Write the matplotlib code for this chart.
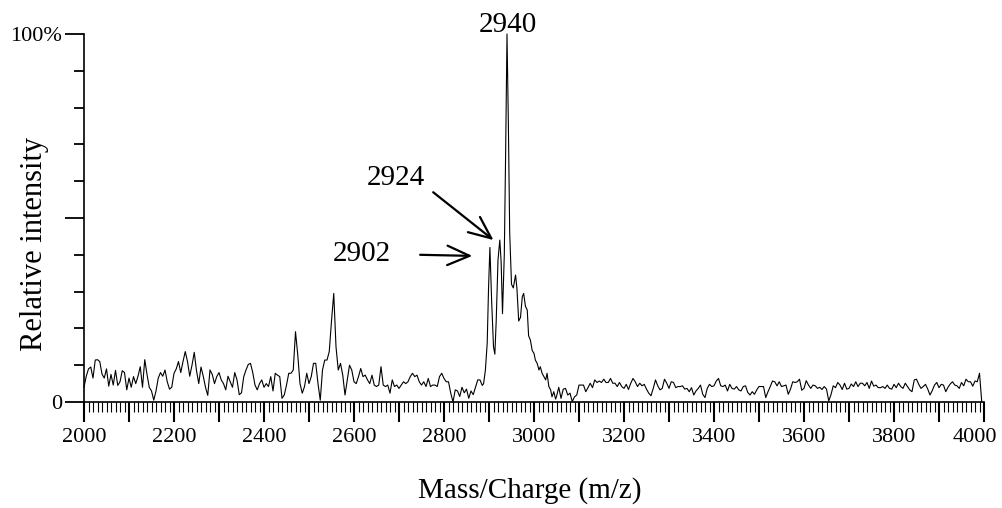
import numpy as np
import matplotlib
matplotlib.use("Agg")
import matplotlib.pyplot as plt
from matplotlib.ticker import MultipleLocator, FixedLocator, FixedFormatter
from matplotlib.transforms import ScaledTranslation

plt.rcParams['font.family'] = ['Liberation Serif', 'DejaVu Serif']

# Low-mass baseline, m/z 2000-2875 sampled every 5 units (% relative intensity)
low_start, step = 2000, 5
low_intensity = [
    4, 7, 9, 9.5, 6.5, 11.4, 11.5, 11, 7.6, 6.5, 9, 4.3, 7.5, 4.6, 8.6, 4.5, 5.5, 8.5, 8, 3.3,
    6.5, 4, 6.9, 5, 7, 9.6, 4, 11.5, 7.5, 4, 3, 0.5, 3, 6.5, 8, 7, 8.7, 5.5, 3.5, 4,
    7.8, 9, 11, 8, 11, 13.7, 11, 7, 10, 13.5, 8.5, 5, 9.5, 7, 4, 1.8, 8.7, 7.5, 5, 6.9,
    8, 6, 5, 3.3, 7, 5.5, 4, 8, 6, 2, 2.5, 6.9, 8.7, 10.2, 10.5, 8, 4.6, 3.3, 5, 6,
    4, 5, 4.2, 6.9, 3, 7.8, 7.3, 6.9, 1, 1.9, 4.6, 7.8, 7.8, 8.7, 19.1, 12.8, 5, 2.4, 4.2, 7.8,
    5, 6.9, 10.5, 10.5, 5, 0.5, 8.7, 11.4, 11.4, 13.7, 22, 29.5, 15, 8.7, 10.5, 7.3, 1.9, 6, 10, 8.7,
    5.5, 5, 6.9, 9.1, 6.9, 7.3, 6, 5, 7.3, 4.6, 4.2, 4.6, 9.6, 4.6, 4.2, 4.6, 2.4, 6, 4.2, 4.6,
    3.7, 4.6, 5.5, 5, 5.5, 6.9, 7.8, 6.9, 7.3, 5.5, 4.6, 5.5, 4.2, 6.4, 4.2, 4.6, 4.6, 4.2, 6.9, 7.8,
    6.4, 5.5, 5.5, 2.4, 0, 3.3, 3, 1.5, 4, 2.5, 3.5, 1, 3, 2, 4, 6,
]

# Main cluster around the 2902 / 2924 / 2940 ions
cluster_mz = [2880, 2885, 2888, 2892, 2896, 2899, 2902, 2906, 2910, 2913, 2916, 2920,
              2924, 2927, 2930, 2934, 2937, 2940, 2943, 2946, 2950, 2954, 2959, 2962,
              2966, 2970, 2974, 2977, 2981, 2985, 2988, 2992, 2996, 3000, 3003, 3007,
              3011, 3014, 3018, 3022, 3026, 3029, 3033, 3037, 3040, 3044, 3048]
cluster_intensity = [6, 4.5, 5, 8.7, 16, 31, 42, 27, 15, 13, 22, 38.6,
                     44, 38, 24, 40, 68, 100, 76, 46, 32, 31, 34.5, 31,
                     22, 23, 28.6, 29.5, 26, 25, 18, 16.8, 14, 13.2, 11.4, 10.5,
                     8.7, 9.6, 7.8, 6.9, 6, 7.8, 4.2, 3.3, 1.4, 2.8, 0.8]

# High-mass baseline, m/z 3050-3995 sampled every 5 units
high_start = 3050
high_intensity = [
    1.5, 4, 1, 3.5, 3.7, 1.9, 2.4, 0.1, 1.4, 1.9, 4.6, 4.6, 4.6, 2.8, 3.9, 5.1, 3.9, 6, 5.3, 5.7,
    5.3, 6.2, 5.3, 5.3, 6.4, 5.1, 5.1, 4.2, 5.3, 4.2, 3.7, 4.8, 3.4, 5.1, 6.4, 5.5, 4.2, 5.1, 4.4, 4.8,
    3.5, 2.4, 1.7, 3.7, 6, 4.4, 3.3, 3.7, 6.2, 5.1, 3.7, 5.5, 5.3, 3.9, 4.2, 4.2, 4.4, 3.5, 3.7, 2.8,
    3.9, 1.9, 3, 3.7, 4.6, 2.1, 1.2, 3.7, 4.8, 4.2, 4.4, 5.7, 6.4, 4.4, 4.2, 4.6, 3, 4.8, 3.7, 3.5,
    4.2, 3.3, 3, 4.2, 4.4, 2.6, 1.9, 2.8, 2.1, 3.3, 4.2, 4.2, 4.2, 1.2, 2.8, 4.2, 5.7, 5.5, 4.4, 5.5,
    4.2, 4.4, 4.6, 2.1, 3.5, 5.5, 5.3, 5.5, 6.2, 3.2, 3.7, 5.8, 4.6, 3.7, 4.6, 4.4, 3.7, 4, 3.4, 4.2,
    3.5, 0.3, 2, 4.4, 3.9, 5.3, 4.6, 3.4, 5.1, 3.5, 3.7, 4.9, 4.2, 5.5, 4.2, 5.1, 5.1, 4.4, 5.3, 3.7,
    5.7, 4.3, 4.6, 3.9, 3.9, 4.2, 3.7, 4.6, 3.7, 3.5, 4.8, 3.9, 5.1, 4.2, 3.7, 5.1, 4.2, 3.3, 2.8, 6,
    6.2, 4.8, 3.7, 4.2, 4.8, 3.5, 1.9, 3.1, 4.6, 5.3, 3.9, 4.8, 4.6, 2.8, 4, 4.9, 5.5, 4.6, 4.4, 3.7,
    5.3, 4.4, 6.2, 5.5, 5.5, 4.3, 5.7, 5.5, 7.8, 0,
]

peak_labels = ["2902", "2924", "2940"]

mz = np.concatenate([
    low_start + step * np.arange(len(low_intensity)),
    np.array(cluster_mz, dtype=float),
    high_start + step * np.arange(len(high_intensity)),
])
intensity = np.concatenate([low_intensity, cluster_intensity, high_intensity])

fig = plt.figure(figsize=(10.02, 5.08), dpi=100)
ax = fig.add_axes([84 / 1002, 1 - 402 / 508, 900 / 1002, 368 / 508])

ax.plot(mz, intensity, color='black', lw=0.8, clip_on=False)
ax.set_xlim(2000, 4000)
ax.set_ylim(0, 100)

for side in ('top', 'right'):
    ax.spines[side].set_visible(False)
for side in ('left', 'bottom'):
    ax.spines[side].set_linewidth(1.2)

# x axis: long ticks every 100, short every 10, labels every 200
xmajor = np.arange(2000, 4001, 100)
ax.xaxis.set_major_locator(FixedLocator(xmajor))
ax.xaxis.set_major_formatter(FixedFormatter([str(v) if v % 200 == 0 else '' for v in xmajor]))
ax.xaxis.set_minor_locator(MultipleLocator(10))
ax.tick_params(axis='x', which='major', direction='out', length=14.5, width=1.5,
               pad=4, labelsize=16)
ax.tick_params(axis='x', which='minor', direction='out', length=7, width=0.8)

# y axis: 0 / 50 / 100 long, tenths short
ax.yaxis.set_major_locator(FixedLocator([0, 50, 100]))
ax.yaxis.set_major_formatter(FixedFormatter(['0', '', '100%']))
ax.yaxis.set_minor_locator(MultipleLocator(10))
ax.tick_params(axis='y', which='major', direction='out', length=14, width=1.3,
               pad=1.5, labelsize=16)
ax.tick_params(axis='y', which='minor', direction='out', length=7, width=1.3)

# keep the last x label inside the figure
last = ax.xaxis.get_major_ticks()[-1].label1
last.set_transform(last.get_transform() + ScaledTranslation(-9 / 100, 0, fig.dpi_scale_trans))

fig.text(530 / 1002, 1 - 491 / 508, 'Mass/Charge (m/z)', ha='center', va='center', fontsize=21)
fig.text(35 / 1002, 1 - 244 / 508, 'Relative intensity', ha='center', va='center',
         rotation=90, fontsize=22)

# peak annotations
ax.text(2943, 102.5, peak_labels[2], ha='center', va='center', fontsize=21, clip_on=False)
ax.text(2694, 61, peak_labels[1], ha='center', va='center', fontsize=21)
ax.text(2618, 40.2, peak_labels[0], ha='center', va='center', fontsize=21)

arrow = dict(arrowstyle='->,head_length=0.8,head_width=0.35', color='black', lw=1.6,
             mutation_scale=20, shrinkA=0, shrinkB=0)
ax.annotate('', xy=(2910, 44), xytext=(2776, 57), arrowprops=arrow)
ax.annotate('', xy=(2863, 39.7), xytext=(2747, 40), arrowprops=arrow)

fig.savefig('out.png', dpi=100)
